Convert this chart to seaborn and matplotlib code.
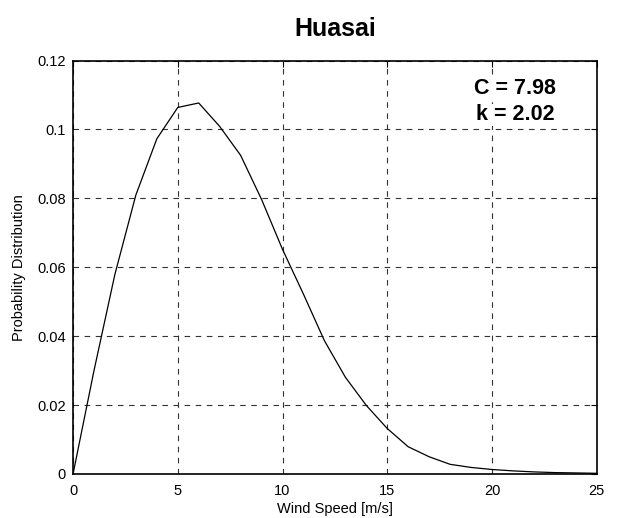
import matplotlib
matplotlib.use("Agg")
import matplotlib.pyplot as plt
import seaborn as sns
import pandas as pd

wind_speed = [0, 1, 2, 3, 4, 5, 6, 7, 8, 9, 10, 11, 12, 13, 14, 15, 16, 17, 18, 19, 20, 21, 22, 23, 24, 25]
probability = [0.0, 0.030, 0.058, 0.081, 0.0973, 0.1064, 0.1077, 0.1009, 0.0925, 0.0797, 0.0652,
               0.0522, 0.0387, 0.0281, 0.0199, 0.0132, 0.0079, 0.0050, 0.0028, 0.0019, 0.0013,
               0.0009, 0.0006, 0.0004, 0.0003, 0.0002]
x_ticks = [0, 5, 10, 15, 20, 25]
y_ticks = [0, 0.02, 0.04, 0.06, 0.08, 0.1, 0.12]
y_tick_labels = ["0", "0.02", "0.04", "0.06", "0.08", "0.1", "0.12"]

sns.set_style("white")
plt.rcParams["font.family"] = ["Liberation Sans", "DejaVu Sans"]
plt.rcParams["text.color"] = "black"
plt.rcParams["axes.labelcolor"] = "black"

df = pd.DataFrame({"Wind Speed": wind_speed, "Probability": probability})

fig = plt.figure(figsize=(6.19, 5.18), dpi=100)
ax = fig.add_axes([0.118, 0.085, 0.846, 0.798])
sns.lineplot(data=df, x="Wind Speed", y="Probability", ax=ax, color="black", linewidth=0.9)

ax.set_xlim(0, 25)
ax.set_ylim(0, 0.12)
ax.set_xticks(x_ticks)
ax.set_xticklabels([str(t) for t in x_ticks])
ax.set_yticks(y_ticks)
ax.set_yticklabels(y_tick_labels)
ax.tick_params(direction="in", top=True, right=True, length=4, width=0.8, labelsize=10.5,
               colors="black", pad=5)
ax.tick_params(axis="x", pad=7)
ax.grid(True, color="#333333", linestyle=(0, (5, 5)), linewidth=0.8)
for s in ax.spines.values():
    s.set_color("black")
    s.set_linewidth(1.2)
ax.set_xlabel("Wind Speed [m/s]", fontsize=10.5, labelpad=3)
ax.set_ylabel("Probability Distribution", fontsize=10.5, labelpad=8)
ax.set_title("Huasai", fontsize=18, fontweight="bold", pad=18, color="black")
ax.text(21.1, 0.1118, "C = 7.98", fontsize=15.5, fontweight="bold", ha="center", va="center",
        bbox=dict(facecolor="white", edgecolor="none", pad=2), zorder=5)
ax.text(21.1, 0.1043, "k = 2.02", fontsize=15.5, fontweight="bold", ha="center", va="center",
        bbox=dict(facecolor="white", edgecolor="none", pad=0.5), zorder=5)

fig.savefig("out.png", dpi=100, facecolor="white")
